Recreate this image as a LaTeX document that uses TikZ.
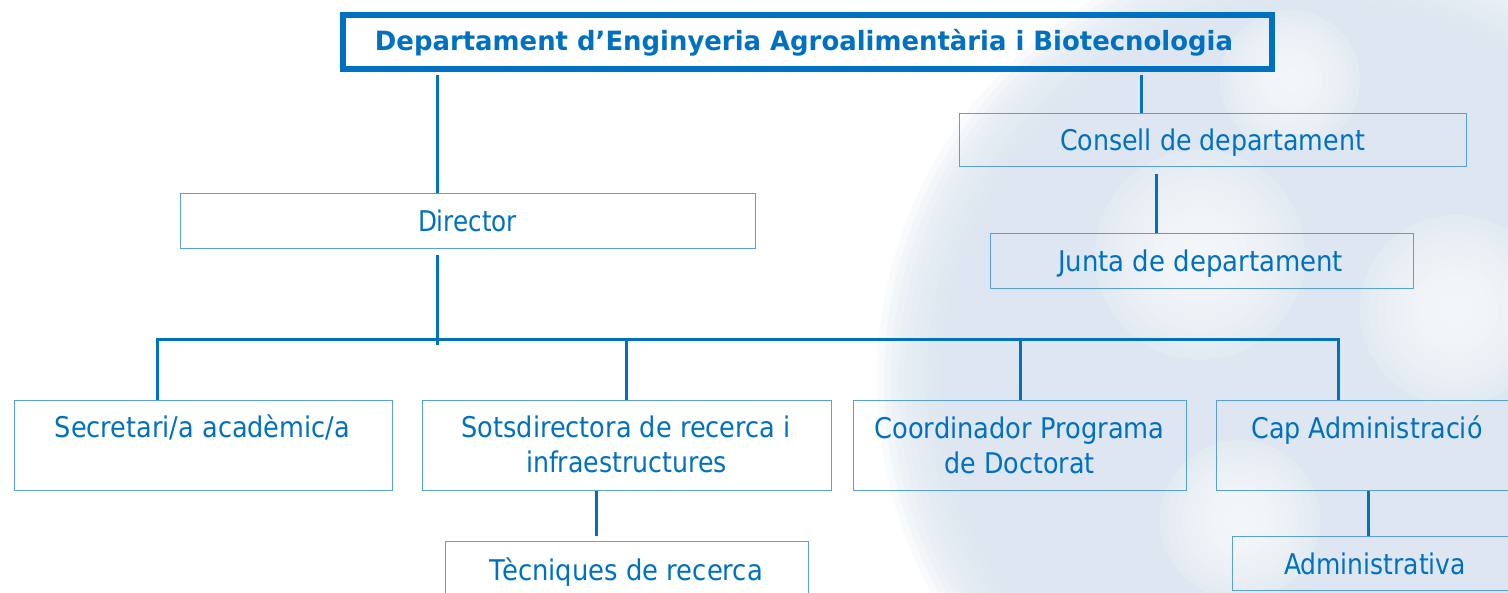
\documentclass[tikz,border=0pt]{standalone}
\usepackage{fontspec}
\usepackage{graphicx}
\setmainfont{DejaVu Sans}
\newfontfamily\titlefont{DejaVu Sans Bold}
\definecolor{ublue}{HTML}{0070C0}
\definecolor{lblue}{HTML}{5B9FD8}
\definecolor{wm}{HTML}{DCE6F1}
\newcommand\fitw[2]{\resizebox{#1pt}{\height}{#2}}
\tikzset{
  box/.style={draw=lblue, line width=1.4pt, anchor=north west, inner sep=0pt},
  conn/.style={draw=ublue, line width=3pt},
  lbl/.style={text=ublue, anchor=base, inner sep=0pt, font=\fontsize{28.5}{34}\selectfont},
}
\begin{document}
\begin{tikzpicture}[x=1pt,y=-1pt]
\useasboundingbox (0,0) rectangle (1508,593);
\fill[white] (0,0) rectangle (1508,593);
% watermark
\begin{scope}
\clip (0,0) rectangle (1508,593);
\foreach \k in {0,...,9} \fill[wm, opacity=0.2] (1320,380) circle ({380pt+\k*7pt});
\foreach \c/\r in {{(1200,255)}/105, {(1455,310)}/95, {(1240,520)}/80, {(1290,80)}/70}
  \foreach \k in {0,...,9} \fill[white, opacity=0.13] \c circle ({\r pt-\k*\r pt/11});
\end{scope}
% boxes
\node[box, draw=ublue, line width=6pt, minimum width=929.5pt, minimum height=54.5pt] (title) at (339.5,12) {};
\node[box, minimum width=575pt, minimum height=55pt] (dir) at (180,193) {};
\node[box, minimum width=507pt, minimum height=53pt] (cons) at (959,113) {};
\node[box, minimum width=423pt, minimum height=55pt] (junta) at (990,233) {};
\node[box, minimum width=378pt, minimum height=90pt] (sec) at (14,400) {};
\node[box, minimum width=409pt, minimum height=90pt] (sots) at (422,400) {};
\node[box, minimum width=333pt, minimum height=90pt] (coord) at (853,400) {};
\node[box, minimum width=310pt, minimum height=90pt] (cap) at (1216,400) {};
\node[box, minimum width=363pt, minimum height=70pt] (tec) at (445,541) {};
\node[box, minimum width=300pt, minimum height=54pt] (adm) at (1232,536) {};
% texts
\node[lbl, font=\titlefont\fontsize{26.5}{30}\selectfont] (ttitle) at (804,51) {\fitw{858}{Departament d’Enginyeria Agroalimentària i Biotecnologia}};
\node[lbl] (tdir) at (467.5,232) {\fitw{99}{Director}};
\node[lbl] (tcons) at (1212.5,151) {\fitw{305}{Consell de departament}};
\node[lbl] (tjunta) at (1200.5,272) {\fitw{285}{Junta de departament}};
\node[lbl] (tsec) at (202.5,438) {\fitw{295}{Secretari/a acadèmic/a}};
\node[lbl] (tsots1) at (626,438) {\fitw{329}{Sotsdirectora de recerca i}};
\node[lbl] (tsots2) at (626.5,473) {\fitw{201}{infraestructures}};
\node[lbl] (tcoord1) at (1019.5,438.5) {\fitw{290}{Coordinador Programa}};
\node[lbl] (tcoord2) at (1019.5,473.5) {\fitw{150}{de Doctorat}};
\node[lbl] (tcap) at (1367,438.5) {\fitw{231}{Cap Administració}};
\node[lbl] (tadm) at (1375,574) {\fitw{182}{Administrativa}};
\node[lbl] (ttec) at (626.5,580) {\fitw{273}{Tècniques de recerca}};
% junction coordinates
\coordinate (x1) at (437,0);
\coordinate (x2) at (1141,0);
\coordinate (x3) at (1156,0);
\coordinate (x4) at (596,0);
\coordinate (x5) at (1368,0);
\coordinate (barL) at (157.7,340);
\coordinate (barR) at (1338,340);
\coordinate (barM) at (437,340);
\coordinate (dsots) at (626,340);
\coordinate (dcoord) at (1020,340);
% connectors
\draw[conn] ([yshift=-3pt]title.south -| x1) -- (dir.north -| x1);
\draw[conn] ([yshift=-3pt]title.south -| x2) -- (cons.north -| x2);
\draw[conn] ([yshift=-7pt]cons.south -| x3) -- (junta.north -| x3);
\draw[conn] ([yshift=-6pt]dir.south -| x1) -- ([yshift=-5pt]barM);
\draw[conn] ([xshift=-1.5pt]barL) -- ([xshift=1.5pt]barR);
\draw[conn] (barL) -- (sec.north -| barL);
\draw[conn] (dsots) -- (sots.north -| dsots);
\draw[conn] (dcoord) -- (coord.north -| dcoord);
\draw[conn] (barR) -- (cap.north -| barR);
\draw[conn] (sots.south -| x4) -- ([yshift=5pt]tec.north -| x4);
\draw[conn] (cap.south -| x5) -- (adm.north -| x5);
\end{tikzpicture}
\end{document}
